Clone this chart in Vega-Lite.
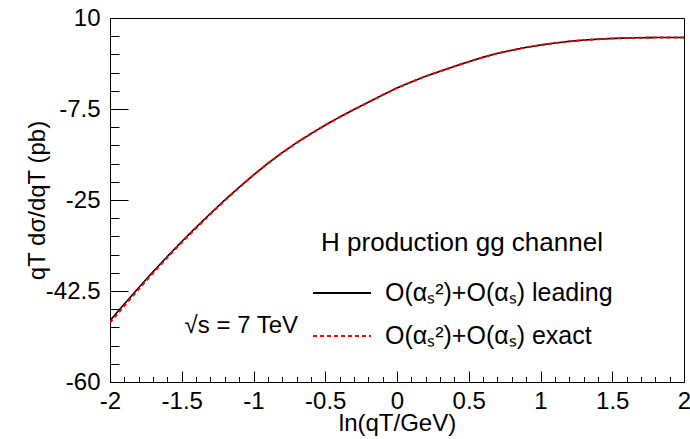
{
  "$schema": "https://vega.github.io/schema/vega-lite/v6.json",
  "width": 574,
  "height": 364,
  "autosize": {"type": "none"},
  "padding": {"left": 110, "top": 18, "right": 6, "bottom": 57},
  "background": "white",
  "config": {
    "view": {"stroke": "black", "strokeWidth": 1},
    "font": "Liberation Sans",
    "axis": {
      "grid": false,
      "domainColor": "black",
      "tickColor": "black",
      "labelColor": "black",
      "titleColor": "black",
      "labelFont": "Liberation Sans",
      "titleFont": "Liberation Sans",
      "labelFontSize": 24,
      "titleFontSize": 24,
      "titleFontWeight": "normal",
      "labelFlush": false,
      "labelOverlap": false
    },
    "legend": {
      "labelFont": "Liberation Sans",
      "titleFont": "Liberation Sans"
    }
  },
  "datasets": {
    "curves": [
      {"x": -2.0, "y": -48.2, "s": "leading"},
      {"x": -1.9, "y": -45.0, "s": "leading"},
      {"x": -1.8, "y": -41.85, "s": "leading"},
      {"x": -1.7, "y": -38.8, "s": "leading"},
      {"x": -1.6, "y": -35.85, "s": "leading"},
      {"x": -1.5, "y": -33.0, "s": "leading"},
      {"x": -1.4, "y": -30.25, "s": "leading"},
      {"x": -1.3, "y": -27.6, "s": "leading"},
      {"x": -1.2, "y": -25.0, "s": "leading"},
      {"x": -1.1, "y": -22.55, "s": "leading"},
      {"x": -1.0, "y": -20.2, "s": "leading"},
      {"x": -0.9, "y": -17.95, "s": "leading"},
      {"x": -0.8, "y": -15.9, "s": "leading"},
      {"x": -0.7, "y": -14.0, "s": "leading"},
      {"x": -0.6, "y": -12.25, "s": "leading"},
      {"x": -0.5, "y": -10.6, "s": "leading"},
      {"x": -0.4, "y": -9.05, "s": "leading"},
      {"x": -0.3, "y": -7.6, "s": "leading"},
      {"x": -0.2, "y": -6.2, "s": "leading"},
      {"x": -0.1, "y": -4.8, "s": "leading"},
      {"x": 0.0, "y": -3.45, "s": "leading"},
      {"x": 0.1, "y": -2.3, "s": "leading"},
      {"x": 0.2, "y": -1.2, "s": "leading"},
      {"x": 0.3, "y": -0.25, "s": "leading"},
      {"x": 0.4, "y": 0.7, "s": "leading"},
      {"x": 0.5, "y": 1.6, "s": "leading"},
      {"x": 0.6, "y": 2.45, "s": "leading"},
      {"x": 0.7, "y": 3.2, "s": "leading"},
      {"x": 0.8, "y": 3.8, "s": "leading"},
      {"x": 0.9, "y": 4.35, "s": "leading"},
      {"x": 1.0, "y": 4.8, "s": "leading"},
      {"x": 1.1, "y": 5.18, "s": "leading"},
      {"x": 1.2, "y": 5.5, "s": "leading"},
      {"x": 1.3, "y": 5.75, "s": "leading"},
      {"x": 1.4, "y": 5.93, "s": "leading"},
      {"x": 1.5, "y": 6.06, "s": "leading"},
      {"x": 1.6, "y": 6.15, "s": "leading"},
      {"x": 1.7, "y": 6.21, "s": "leading"},
      {"x": 1.8, "y": 6.24, "s": "leading"},
      {"x": 1.9, "y": 6.25, "s": "leading"},
      {"x": 2.0, "y": 6.24, "s": "leading"},
      {"x": -2.0, "y": -48.6, "s": "exact"},
      {"x": -1.9, "y": -45.35, "s": "exact"},
      {"x": -1.8, "y": -42.15, "s": "exact"},
      {"x": -1.7, "y": -39.05, "s": "exact"},
      {"x": -1.6, "y": -36.05, "s": "exact"},
      {"x": -1.5, "y": -33.15, "s": "exact"},
      {"x": -1.4, "y": -30.4, "s": "exact"},
      {"x": -1.3, "y": -27.7, "s": "exact"},
      {"x": -1.2, "y": -25.1, "s": "exact"},
      {"x": -1.1, "y": -22.6, "s": "exact"},
      {"x": -1.0, "y": -20.2, "s": "exact"},
      {"x": -0.9, "y": -17.95, "s": "exact"},
      {"x": -0.8, "y": -15.9, "s": "exact"},
      {"x": -0.7, "y": -14.0, "s": "exact"},
      {"x": -0.6, "y": -12.25, "s": "exact"},
      {"x": -0.5, "y": -10.6, "s": "exact"},
      {"x": -0.4, "y": -9.05, "s": "exact"},
      {"x": -0.3, "y": -7.6, "s": "exact"},
      {"x": -0.2, "y": -6.2, "s": "exact"},
      {"x": -0.1, "y": -4.8, "s": "exact"},
      {"x": 0.0, "y": -3.45, "s": "exact"},
      {"x": 0.1, "y": -2.3, "s": "exact"},
      {"x": 0.2, "y": -1.2, "s": "exact"},
      {"x": 0.3, "y": -0.25, "s": "exact"},
      {"x": 0.4, "y": 0.7, "s": "exact"},
      {"x": 0.5, "y": 1.6, "s": "exact"},
      {"x": 0.6, "y": 2.45, "s": "exact"},
      {"x": 0.7, "y": 3.2, "s": "exact"},
      {"x": 0.8, "y": 3.8, "s": "exact"},
      {"x": 0.9, "y": 4.35, "s": "exact"},
      {"x": 1.0, "y": 4.8, "s": "exact"},
      {"x": 1.1, "y": 5.18, "s": "exact"},
      {"x": 1.2, "y": 5.5, "s": "exact"},
      {"x": 1.3, "y": 5.75, "s": "exact"},
      {"x": 1.4, "y": 5.93, "s": "exact"},
      {"x": 1.5, "y": 6.06, "s": "exact"},
      {"x": 1.6, "y": 6.15, "s": "exact"},
      {"x": 1.7, "y": 6.21, "s": "exact"},
      {"x": 1.8, "y": 6.24, "s": "exact"},
      {"x": 1.9, "y": 6.25, "s": "exact"},
      {"x": 2.0, "y": 6.24, "s": "exact"}
    ]
  },
  "layer": [
    {
      "data": {"name": "curves"},
      "transform": [{"filter": "datum.s == 'leading'"}],
      "mark": {"type": "line", "strokeWidth": 1.6, "clip": true},
      "encoding": {
        "x": {
          "field": "x", "type": "quantitative",
          "scale": {"domain": [-2, 2], "nice": false, "zero": false},
          "axis": {
            "orient": "bottom",
            "values": [-2, -1.5, -1, -0.5, 0, 0.5, 1, 1.5, 2],
            "labelExpr": "'' + datum.value",
            "tickSize": -11,
            "labelPadding": 18,
            "title": "ln(qT/GeV)",
            "titlePadding": -2
          }
        },
        "y": {
          "field": "y", "type": "quantitative",
          "scale": {"domain": [-60, 10], "nice": false, "zero": false},
          "axis": {
            "orient": "left",
            "values": [-60, -42.5, -25, -7.5, 10],
            "labelExpr": "'' + datum.value",
            "tickSize": -18,
            "labelPadding": 28,
            "title": "qT dσ/dqT (pb)",
            "titlePadding": -4
          }
        },
        "color": {
          "field": "s", "type": "nominal",
          "scale": {"domain": ["leading", "exact"], "range": ["black", "#ff0000"]},
          "legend": {
            "title": "H production gg channel",
            "orient": "none",
            "legendX": 202,
            "legendY": 212,
            "padding": 0,
            "labelExpr": "datum.value == 'leading' ? 'O(αₛ²)+O(αₛ) leading' : 'O(αₛ²)+O(αₛ) exact'",
            "symbolType": "stroke",
            "symbolSize": 3364,
            "symbolStrokeWidth": 1.8,
            "labelFontSize": 25,
            "titleFontSize": 26,
            "titleFontWeight": "normal",
            "titleColor": "black",
            "labelColor": "black",
            "labelLimit": 500,
            "titleLimit": 500,
            "labelOffset": 13,
            "rowPadding": -3,
            "titlePadding": 7,
            "titleAnchor": "middle"
          }
        },
        "strokeDash": {
          "field": "s", "type": "nominal",
          "scale": {"domain": ["leading", "exact"], "range": [[1, 0], [4, 3]]},
          "legend": {
            "title": "H production gg channel",
            "orient": "none",
            "legendX": 202,
            "legendY": 212,
            "padding": 0,
            "labelExpr": "datum.value == 'leading' ? 'O(αₛ²)+O(αₛ) leading' : 'O(αₛ²)+O(αₛ) exact'",
            "symbolType": "stroke",
            "symbolSize": 3364,
            "symbolStrokeWidth": 1.8,
            "labelFontSize": 25,
            "titleFontSize": 26,
            "titleFontWeight": "normal",
            "titleColor": "black",
            "labelColor": "black",
            "labelLimit": 500,
            "titleLimit": 500,
            "labelOffset": 13,
            "rowPadding": -3,
            "titlePadding": 7,
            "titleAnchor": "middle"
          }
        }
      }
    },
    {
      "data": {"name": "curves"},
      "transform": [{"filter": "datum.s == 'exact'"}],
      "mark": {"type": "line", "strokeWidth": 2, "clip": true},
      "encoding": {
        "x": {
          "field": "x", "type": "quantitative",
          "axis": {
            "orient": "bottom",
            "values": [-1.9, -1.8, -1.7, -1.6, -1.4, -1.3, -1.2, -1.1, -0.9, -0.8, -0.7, -0.6, -0.4, -0.3, -0.2, -0.1, 0.1, 0.2, 0.3, 0.4, 0.6, 0.7, 0.8, 0.9, 1.1, 1.2, 1.3, 1.4, 1.6, 1.7, 1.8, 1.9],
            "labels": false,
            "domain": false,
            "tickSize": -5.5,
            "title": null
          }
        },
        "y": {
          "field": "y", "type": "quantitative",
          "axis": {
            "orient": "left",
            "values": [-56.5, -53, -49.5, -46, -39, -35.5, -32, -28.5, -21.5, -18, -14.5, -11, -4, -0.5, 3, 6.5],
            "labels": false,
            "domain": false,
            "tickSize": -9,
            "title": null
          }
        },
        "color": {"field": "s", "type": "nominal"},
        "strokeDash": {"field": "s", "type": "nominal"}
      }
    },
    {
      "data": {"values": [{"x": -1.48, "y": -49.3, "label": "√s = 7 TeV"}]},
      "mark": {"type": "text", "align": "left", "baseline": "middle", "fontSize": 24, "font": "Liberation Sans", "color": "black"},
      "encoding": {
        "x": {"field": "x", "type": "quantitative", "axis": null},
        "y": {"field": "y", "type": "quantitative", "axis": null},
        "text": {"field": "label"}
      }
    }
  ],
  "resolve": {"axis": {"x": "independent", "y": "independent"}}
}
